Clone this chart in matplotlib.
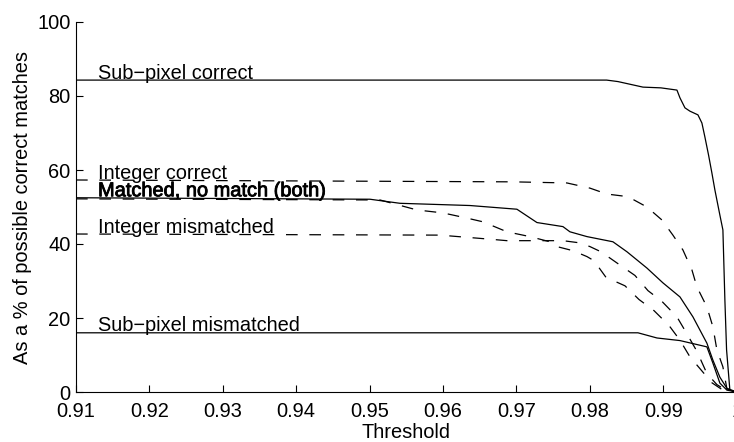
import matplotlib
matplotlib.use("Agg")
import matplotlib.pyplot as plt
import matplotlib.patheffects as pe

plt.rcParams['font.family'] = ['Liberation Sans', 'DejaVu Sans']
plt.rcParams['lines.scale_dashes'] = False

# curves (threshold, % of possible correct matches)
subpix_correct_x = [0.91, 0.98228, 0.98382, 0.98723, 0.98968, 0.99186, 0.99227, 0.99295,
                    0.99363, 0.99472, 0.99526, 0.99567, 0.99617, 0.99662, 0.99703, 0.99771,
                    0.99812, 0.99839, 0.99862, 0.99907, 1.0]
subpix_correct_y = [84.3, 84.3, 83.9, 82.4, 82.2, 81.6, 79.5, 76.8,
                    75.9, 74.9, 72.7, 68.9, 64.0, 59.2, 54.6, 47.8,
                    43.8, 24.9, 11.4, 0.5, 0.0]

int_correct_x = [0.91, 0.96952, 0.97687, 0.98001, 0.98232, 0.98518, 0.98777, 0.98981,
                 0.99131, 0.99267, 0.99390, 0.99458, 0.99594, 0.99676, 0.99730, 0.99812,
                 0.99867, 1.0]
int_correct_y = [57.3, 56.8, 56.5, 55.1, 53.5, 52.8, 50.0, 46.5,
                 42.4, 38.4, 33.0, 28.4, 23.0, 17.6, 11.4, 6.8,
                 0.8, 0.0]

matched_x = [0.91, 0.95004, 0.95413, 0.96366, 0.97006, 0.97279, 0.97633, 0.97728,
             0.97960, 0.98314, 0.98505, 0.98777, 0.98995, 0.99227, 0.99404, 0.99594,
             0.99676, 0.99771, 0.99867, 1.0]
matched_y = [52.5, 52.1, 51.0, 50.4, 49.4, 45.8, 44.7, 43.3,
             42.0, 40.6, 37.9, 33.5, 29.5, 25.7, 20.3, 13.2,
             8.6, 4.0, 1.0, 0.0]

nomatch_x = [0.91, 0.95141, 0.95644, 0.95999, 0.96325, 0.96543, 0.96870, 0.97183,
             0.97456, 0.97551, 0.97769, 0.97960, 0.98055, 0.98219, 0.98478, 0.98669,
             0.98873, 0.99077, 0.99227, 0.99363, 0.99513, 0.99662, 0.99812, 1.0]
nomatch_y = [52.2, 51.9, 49.2, 48.4, 47.0, 46.0, 43.3, 42.0,
             40.6, 39.3, 38.2, 36.6, 35.5, 31.0, 28.7, 25.0,
             22.0, 18.0, 14.0, 9.5, 6.0, 2.5, 0.5, 0.0]

int_mismatch_x = [0.91, 0.95958, 0.96639, 0.96870, 0.97633, 0.97865, 0.98001, 0.98151,
                  0.98396, 0.98614, 0.98791, 0.98981, 0.99186, 0.99308, 0.99458, 0.99594,
                  0.99730, 0.99853, 1.0]
int_mismatch_y = [42.7, 42.4, 41.3, 40.9, 40.9, 40.3, 39.3, 37.9,
                  34.5, 31.5, 27.4, 24.5, 20.3, 16.2, 11.0, 5.0,
                  2.0, 0.5, 0.0]

subpix_mismatch_x = [0.91, 0.98655, 0.98914, 0.99227, 0.99594, 0.99676, 0.99771, 0.99867, 1.0]
subpix_mismatch_y = [16.0, 16.0, 14.6, 13.9, 12.2, 7.8, 2.4, 0.5, 0.0]

labels = ['Sub\u2212pixel correct', 'Integer correct', 'Matched, no match (both)',
          'Integer mismatched', 'Sub\u2212pixel mismatched']
label_y = [84.3, 57.3, 52.5, 42.7, 16.0]

fig = plt.figure(figsize=(7.34, 4.42), dpi=100)
ax = fig.add_axes([76 / 734, 50 / 442, 660.7 / 734, 370 / 442])

lw = 0.9
dash = (8.4, 8.4)
ax.plot(subpix_correct_x, subpix_correct_y, color='k', lw=lw)
ax.plot(int_correct_x, int_correct_y, color='k', lw=lw, ls='--', dashes=dash)
ax.plot(matched_x, matched_y, color='k', lw=lw)
ax.plot(nomatch_x, nomatch_y, color='k', lw=lw, ls='--', dashes=dash)
ax.plot(int_mismatch_x, int_mismatch_y, color='k', lw=lw, ls='--', dashes=dash)
ax.plot(subpix_mismatch_x, subpix_mismatch_y, color='k', lw=lw)

for txt, yv in zip(labels, label_y):
    t = ax.text(0.9130, yv + 0.4, txt, fontsize=14.4, va='baseline', ha='left', zorder=1)
    if txt.startswith('Matched'):
        t.set_path_effects([pe.withStroke(linewidth=0.6, foreground='k')])

ax.set_xlim(0.91, 1.0)
ax.set_ylim(0, 100)
ax.set_xticks([0.91, 0.92, 0.93, 0.94, 0.95, 0.96, 0.97, 0.98, 0.99, 1.0])
ax.set_xticklabels(['0.91', '0.92', '0.93', '0.94', '0.95', '0.96', '0.97', '0.98', '0.99', '1'])
ax.set_yticks([0, 20, 40, 60, 80, 100])
ax.tick_params(direction='in', length=5, width=0.8, labelsize=14.4)
ax.tick_params(axis='x', pad=7)
ax.tick_params(axis='y', pad=4)
ax.spines['top'].set_visible(False)
ax.spines['right'].set_visible(False)
for s in ('left', 'bottom'):
    ax.spines[s].set_linewidth(0.8)

ax.set_xlabel('Threshold', fontsize=14.4, labelpad=2)
ax.set_ylabel('As a % of possible correct matches', fontsize=14.4, labelpad=4)

fig.savefig('out.png', dpi=100)
